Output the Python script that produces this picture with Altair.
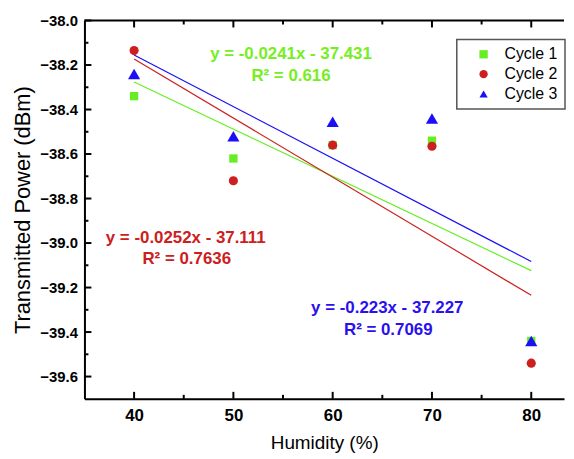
import altair as alt
import pandas as pd

# ---- data ----
humidity = [40, 50, 60, 70, 80]
cycle1 = [-38.34, -38.62, -38.56, -38.54, -39.44]
cycle2 = [-38.135, -38.72, -38.56, -38.565, -39.54]
cycle3 = [-38.24, -38.52, -38.455, -38.44, -39.44]
series = ["Cycle 1", "Cycle 2", "Cycle 3"]

x_major = [40, 50, 60, 70, 80]
x_minor = [45, 55, 65, 75]
y_major = [-39.6, -39.4, -39.2, -39.0, -38.8, -38.6, -38.4, -38.2, -38.0]
y_minor = [-39.5, -39.3, -39.1, -38.9, -38.7, -38.5, -38.3, -38.1]

eq_green = ["y = -0.0241x - 37.431", "R\u00b2 = 0.616"]
eq_red = ["y = -0.0252x - 37.111", "R\u00b2 = 0.7636"]
eq_blue = ["y = -0.223x - 37.227", "R\u00b2 = 0.7069"]

# ---- styling ----
W, H = 483, 381
FONT = "Liberation Sans"
colors = ["#66EE22", "#CC1F1F", "#1A0FF5"]
text_colors = ["#77EE22", "#CC2020", "#2A10F0"]
shapes = ["square", "circle", "triangle-up"]
sizes = [70, 85, 150]

rows = []
for s, vals in zip(series, [cycle1, cycle2, cycle3]):
    for h, v in zip(humidity, vals):
        rows.append({"Series": s, "Humidity": h, "Power": v})
df = pd.DataFrame(rows)

xs = alt.Scale(domain=[35, 83.3], nice=False, zero=False)
ys = alt.Scale(domain=[-39.7, -38.0], nice=False, zero=False)

x_axis = alt.Axis(values=x_major, title="Humidity (%)", grid=False, ticks=False,
                  domainColor="black", domainWidth=2, labelFont=FONT, labelFontSize=17,
                  labelFontWeight="bold", labelColor="black", labelPadding=9,
                  titleFont=FONT, titleFontSize=19, titleFontWeight="normal",
                  titleColor="black", titlePadding=10)
y_axis = alt.Axis(values=y_major, format=".1f", title="Transmitted Power (dBm)", grid=False,
                  ticks=False, domainColor="black", domainWidth=2, labelFont=FONT,
                  labelFontSize=15, labelFontWeight="bold", labelColor="black",
                  labelPadding=7, titleFont=FONT, titleFontSize=22, titleFontWeight="normal",
                  titleColor="black", titlePadding=5)


def X(field="Humidity"):
    return alt.X(f"{field}:Q", scale=xs, axis=x_axis)


def Y(field="Power"):
    return alt.Y(f"{field}:Q", scale=ys, axis=y_axis)


leg = alt.Legend(title=None, orient="none", legendX=375, legendY=19)
color_enc = alt.Color("Series:N", scale=alt.Scale(domain=series, range=colors), legend=leg)
shape_enc = alt.Shape("Series:N", scale=alt.Scale(domain=series, range=shapes), legend=leg)

points = [
    alt.Chart(df).transform_filter(alt.datum.Series == s).mark_point(
        filled=True, opacity=1, strokeWidth=0, size=sz
    ).encode(x=X(), y=Y(), color=color_enc, shape=shape_enc)
    for s, sz in zip(series, sizes)
]

lines = [
    alt.Chart(df).transform_filter(alt.datum.Series == s).transform_regression(
        "Humidity", "Power", extent=[40, 80]
    ).mark_line(strokeWidth=1.2, color=c).encode(x=X(), y=Y())
    for s, c in zip(series, colors)
]

one = pd.DataFrame({"k": [0]})
top_border = alt.Chart(one).mark_rule(color="black", strokeWidth=2).encode(
    x=alt.value(0), x2=alt.value(W), y=alt.value(0))

xmaj = pd.DataFrame({"Humidity": x_major})
xmin = pd.DataFrame({"Humidity": x_minor})
ymaj = pd.DataFrame({"Power": y_major})
ymin = pd.DataFrame({"Power": y_minor})

tick_layers = [
    alt.Chart(xmaj).mark_rule(color="black", strokeWidth=2).encode(x=X(), y=alt.value(H), y2=alt.value(H - 7)),
    alt.Chart(xmin).mark_rule(color="black", strokeWidth=2).encode(x=X(), y=alt.value(H), y2=alt.value(H - 4)),
    alt.Chart(xmaj).mark_rule(color="black", strokeWidth=2).encode(x=X(), y=alt.value(0), y2=alt.value(7)),
    alt.Chart(xmin).mark_rule(color="black", strokeWidth=2).encode(x=X(), y=alt.value(0), y2=alt.value(4)),
    alt.Chart(ymaj).mark_rule(color="black", strokeWidth=2).encode(y=Y(), x=alt.value(0), x2=alt.value(7)),
    alt.Chart(ymin).mark_rule(color="black", strokeWidth=2).encode(y=Y(), x=alt.value(0), x2=alt.value(4)),
]


def label(txt, px, py, color):
    return alt.Chart(one).mark_text(font=FONT, fontSize=17, fontWeight="bold", color=color,
                                     align="center", baseline="middle").encode(
        x=alt.value(px), y=alt.value(py), text=alt.value(txt))


texts = [
    label(eq_green[0], 208, 34, text_colors[0]),
    label(eq_green[1], 208, 56, text_colors[0]),
    label(eq_red[0], 102, 219, text_colors[1]),
    label(eq_red[1], 103, 240, text_colors[1]),
    label(eq_blue[0], 305, 290, text_colors[2]),
    label(eq_blue[1], 306, 312, text_colors[2]),
]

chart = alt.layer(top_border, *tick_layers, *lines, *points, *texts).properties(
    width=W, height=H,
    padding={"left": 4, "top": 4, "right": 0, "bottom": 2},
).configure_view(stroke=None).configure_legend(
    padding=7, strokeColor="#555555",
    fillColor="white", strokeWidth=1.5, labelFont=FONT, labelFontSize=16,
    labelColor="black", rowPadding=4, symbolOffset=12, labelOffset=13, symbolSize=70,
)

chart.save("out.html", embed_options={"renderer": "svg", "actions": False})
